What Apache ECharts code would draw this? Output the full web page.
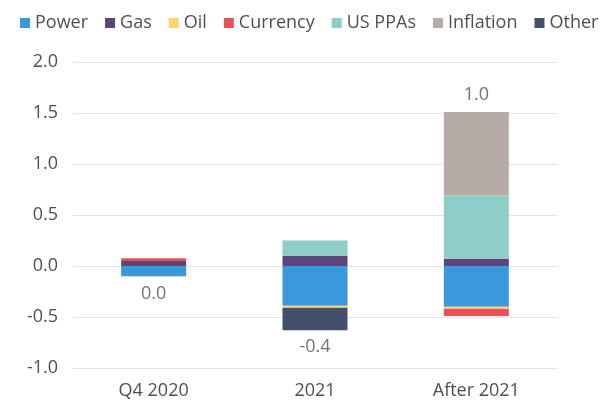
<!DOCTYPE html>
<html lang="en">
<head>
    <meta charset="UTF-8">
    <title>Echarts</title>
    <script type="text/javascript" src="https://cdn.jsdelivr.net/npm/echarts@6/dist/echarts.min.js"></script>
    <style>
        html, body { margin: 0; padding: 0; background: #fff; }
    </style>
</head>
<body>
    <div id="main" style="width: 607px;height:400px;"></div>
</body>

<script type="text/javascript">
    var categories = ['Q4 2020', '2021', 'After 2021'];

    var power     = [-0.10, -0.39, -0.40];
    var gas       = [0.05, 0.10, 0.07];
    var oil       = [-0.005, -0.02, -0.02];
    var currency  = [0.025, 0, -0.07];
    var usPPAs    = [0, 0.15, 0.62];
    var inflation = [0, 0, 0.82];
    var other     = [0, -0.22, 0];

    var yTicks = [-1.0, -0.5, 0.0, 0.5, 1.0, 1.5, 2.0];

    var seriesDefs = [
        {name: 'Power', data: power, color: '#3a98dd'},
        {name: 'Gas', data: gas, color: '#5c457b'},
        {name: 'Oil', data: oil, color: '#fdd470'},
        {name: 'Currency', data: currency, color: '#e9515a'},
        {name: 'US PPAs', data: usPPAs, color: '#8fcec7'},
        {name: 'Inflation', data: inflation, color: '#b6aca5'},
        {name: 'Other', data: other, color: '#42506a'}
    ];

    var textColor = '#4b5058';
    var fontFamily = '"Open Sans", "Noto Sans", sans-serif';

    // totals and where to hang the label (top of positives or bottom of negatives)
    var totalLabels = [];
    for (var i = 0; i < categories.length; i++) {
        var pos = 0, neg = 0;
        for (var j = 0; j < seriesDefs.length; j++) {
            var v = seriesDefs[j].data[i];
            if (v > 0) pos += v; else neg += v;
        }
        var raw = pos + neg;
        totalLabels.push({
            value: raw >= 0 ? pos : neg,
            total: Math.round(raw * 10) / 10,
            label: {position: raw >= 0 ? 'top' : 'bottom'}
        });
    }

    var series = [];
    for (var k = 0; k < seriesDefs.length; k++) {
        series.push({
            name: seriesDefs[k].name,
            type: 'bar',
            stack: 'total',
            barWidth: 65,
            itemStyle: {color: seriesDefs[k].color},
            data: seriesDefs[k].data
        });
    }
    series.push({
        name: 'Total',
        type: 'scatter',
        symbolSize: 0,
        silent: true,
        label: {
            show: true,
            distance: 8,
            color: textColor,
            fontSize: 18,
            fontFamily: fontFamily,
            formatter: function (p) {
                return (p.data.total === 0 ? 0 : p.data.total).toFixed(1);
            }
        },
        data: totalLabels
    });

    var myChart = echarts.init(document.getElementById('main'));
    var option = {
        backgroundColor: '#ffffff',
        animation: false,
        legend: {
            data: seriesDefs.map(function (s) { return s.name; }),
            left: 20,
            top: 14,
            width: 600,
            padding: 0,
            itemWidth: 10,
            itemHeight: 10,
            itemGap: 17,
            icon: 'rect',
            textStyle: {color: textColor, fontSize: 18, fontFamily: fontFamily, padding: [0, 0, 0, 0]}
        },
        grid: {left: 73, right: 50, top: 62, bottom: 31},
        xAxis: {
            type: 'category',
            data: categories,
            axisLine: {show: false, onZero: false},
            axisTick: {show: false},
            axisLabel: {color: textColor, fontSize: 18, fontFamily: fontFamily, margin: 14}
        },
        yAxis: {
            type: 'value',
            min: yTicks[0],
            max: yTicks[yTicks.length - 1],
            interval: 0.5,
            axisLine: {show: false},
            axisTick: {show: false},
            splitLine: {lineStyle: {color: '#e2e2e2', width: 1}},
            axisLabel: {
                color: textColor, fontSize: 18, fontFamily: fontFamily, margin: 15,
                formatter: function (v) { return v.toFixed(1); }
            }
        },
        series: series
    };
    myChart.setOption(option);
</script>
</html>
